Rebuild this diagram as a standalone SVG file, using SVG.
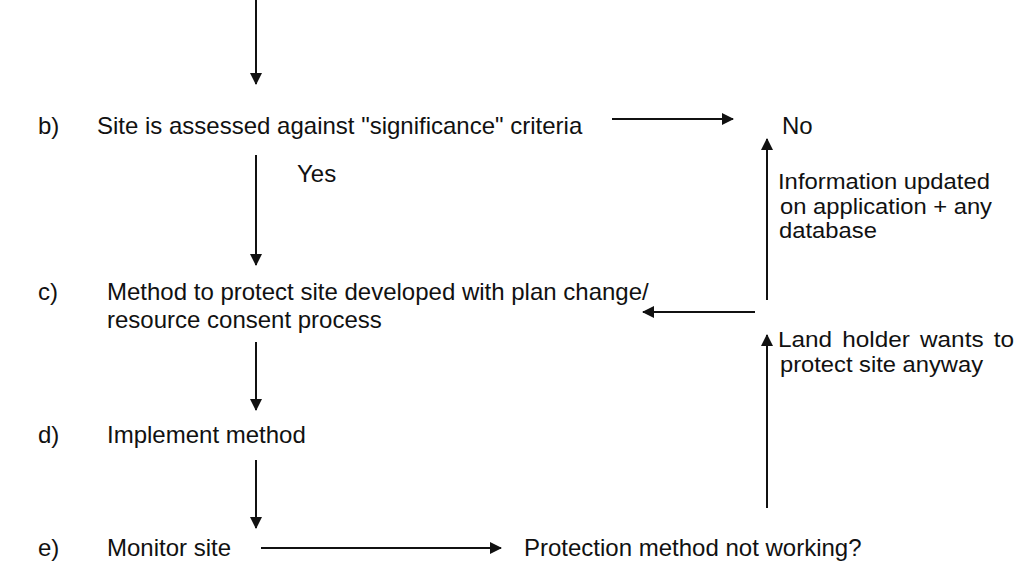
<svg xmlns="http://www.w3.org/2000/svg" width="1024" height="563" viewBox="0 0 1024 563">
<style>
text{font-family:"Liberation Sans",Arial,sans-serif;font-size:24px;fill:#111}
text.r{font-size:22px}
.c{stroke:#111;stroke-width:2;fill:none}
</style>
<defs>
<marker id="ah" viewBox="0 0 12 12" markerWidth="12" markerHeight="12" refX="11" refY="6" orient="auto" markerUnits="userSpaceOnUse">
<path d="M0,0 L12,6 L0,12 z" fill="#111"/>
</marker>
</defs>
<rect width="1024" height="563" fill="#fff"/>
<g id="connectors">
<line class="c" x1="256" y1="0" x2="256" y2="84" marker-end="url(#ah)"/>
<line class="c" x1="612" y1="119" x2="733" y2="119" marker-end="url(#ah)"/>
<line class="c" x1="256" y1="155" x2="256" y2="265" marker-end="url(#ah)"/>
<line class="c" x1="767" y1="300" x2="767" y2="139" marker-end="url(#ah)"/>
<line class="c" x1="755" y1="312" x2="643" y2="312" marker-end="url(#ah)"/>
<line class="c" x1="767" y1="508" x2="767" y2="335" marker-end="url(#ah)"/>
<line class="c" x1="256" y1="342" x2="256" y2="410" marker-end="url(#ah)"/>
<line class="c" x1="256" y1="460" x2="256" y2="528" marker-end="url(#ah)"/>
<line class="c" x1="261" y1="548" x2="501" y2="548" marker-end="url(#ah)"/>
</g>
<g id="node-b">
<text x="38" y="134">b)</text>
<text x="97" y="134">Site is assessed against "significance" criteria</text>
</g>
<g id="node-no"><text x="782" y="134">No</text></g>
<g id="label-yes"><text x="297" y="182">Yes</text></g>
<g id="node-info">
<text class="r" x="778" y="189" textLength="212" lengthAdjust="spacingAndGlyphs">Information updated</text>
<text class="r" x="780" y="213.5" textLength="212" lengthAdjust="spacingAndGlyphs">on application + any</text>
<text class="r" x="779" y="238" textLength="98" lengthAdjust="spacingAndGlyphs">database</text>
</g>
<g id="node-c">
<text x="38" y="300">c)</text>
<text x="107" y="300">Method to protect site developed with plan change/</text>
<text x="107" y="328">resource consent process</text>
</g>
<g id="node-land">
<text class="r" x="778" y="347" textLength="236" lengthAdjust="spacingAndGlyphs" word-spacing="3">Land holder wants to</text>
<text class="r" x="780" y="371.5" textLength="203" lengthAdjust="spacingAndGlyphs">protect site anyway</text>
</g>
<g id="node-d">
<text x="38" y="443">d)</text>
<text x="107" y="443">Implement method</text>
</g>
<g id="node-e">
<text x="38" y="556">e)</text>
<text x="107" y="556">Monitor site</text>
</g>
<g id="node-protection"><text x="524" y="556">Protection method not working?</text></g>
</svg>
